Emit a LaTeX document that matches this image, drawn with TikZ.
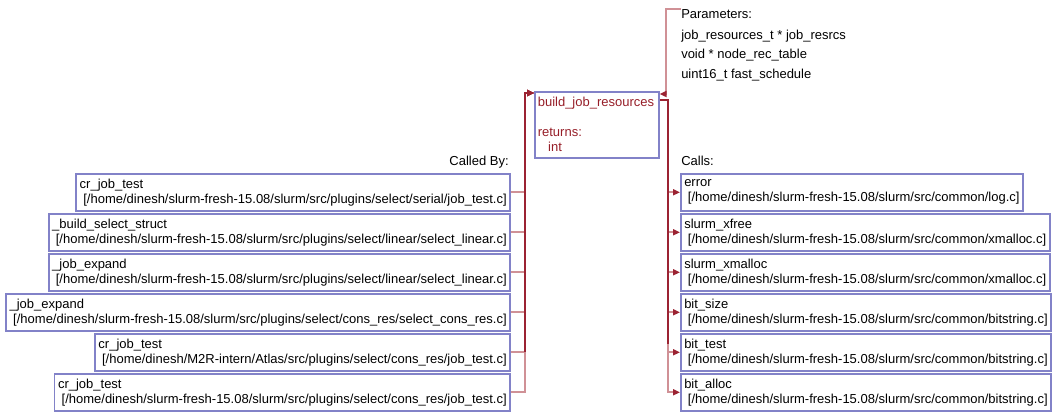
\documentclass[tikz,border=0pt]{standalone}
\usepackage{fontspec}
\setmainfont{Liberation Sans}
\usetikzlibrary{arrows.meta,calc}
\definecolor{dred}{RGB}{155,35,50}
\definecolor{pline}{RGB}{208,145,150}
\definecolor{bblue}{RGB}{130,130,200}
\definecolor{mtext}{RGB}{150,30,40}
\begin{document}
\begin{tikzpicture}[x=0.75pt,y=-0.75pt,
  every node/.style={font=\fontsize{9.75pt}{11.25pt}\selectfont},
  fbox/.style={draw=bblue,line width=1.2pt,align=left,inner xsep=2.6pt,inner ysep=0pt,minimum height=27.75pt},
  caller/.style={fbox,anchor=north east},
  callee/.style={fbox,anchor=north west},
  mainbox/.style={draw=bblue,line width=1.2pt,align=left,text=mtext,inner xsep=2.25pt,inner ysep=0pt,
     text width=88.5pt,minimum height=49.5pt,anchor=north west},
  edge/.style={draw=pline,line width=1.5pt,-{Triangle[length=5.25pt,width=4.5pt,color=dred]}},
  trunk/.style={draw=dred,line width=1.5pt},
  lbl/.style={inner sep=0pt}]
\path[use as bounding box] (0,0) rectangle (1058,416);

% main node
\node[mainbox] (main) at (534,91) {build\_job\_resources\\[11.25pt]returns:\\\hspace*{.8em}int};

% parameters
\node[lbl,anchor=north west,align=left,font=\fontsize{9.75pt}{14.5pt}\selectfont] (params) at (681,9.5)
  {Parameters:\\[1.2pt]job\_resources\_t * job\_resrcs\\void * node\_rec\_table\\uint16\_t fast\_schedule};

\node[lbl,anchor=base east] (calledby) at (509,166) {Called By:};
\node[lbl,anchor=base west] (calls) at (681,166) {Calls:};

% callers
\node[caller] (c1) at (511,173) {cr\_job\_test\\\hspace*{.28em}[/home/dinesh/slurm-fresh-15.08/slurm/src/plugins/select/serial/job\_test.c]};
\node[caller] (c2) at (511,213) {\_build\_select\_struct\\\hspace*{.28em}[/home/dinesh/slurm-fresh-15.08/slurm/src/plugins/select/linear/select\_linear.c]};
\node[caller] (c3) at (511,253) {\_job\_expand\\\hspace*{.28em}[/home/dinesh/slurm-fresh-15.08/slurm/src/plugins/select/linear/select\_linear.c]};
\node[caller] (c4) at (511,293) {\_job\_expand\\\hspace*{.28em}[/home/dinesh/slurm-fresh-15.08/slurm/src/plugins/select/cons\_res/select\_cons\_res.c]};
\node[caller] (c5) at (511,333) {cr\_job\_test\\\hspace*{.28em}[/home/dinesh/M2R-intern/Atlas/src/plugins/select/cons\_res/job\_test.c]};
\node[caller] (c6) at (511,373) {cr\_job\_test\\\hspace*{.28em}[/home/dinesh/slurm-fresh-15.08/slurm/src/plugins/select/cons\_res/job\_test.c]};

% callees
\node[callee] (k1) at (680,173) {error\\\hspace*{.28em}[/home/dinesh/slurm-fresh-15.08/slurm/src/common/log.c]};
\node[callee] (k2) at (680,213) {slurm\_xfree\\\hspace*{.28em}[/home/dinesh/slurm-fresh-15.08/slurm/src/common/xmalloc.c]};
\node[callee] (k3) at (680,253) {slurm\_xmalloc\\\hspace*{.28em}[/home/dinesh/slurm-fresh-15.08/slurm/src/common/xmalloc.c]};
\node[callee] (k4) at (680,293) {bit\_size\\\hspace*{.28em}[/home/dinesh/slurm-fresh-15.08/slurm/src/common/bitstring.c]};
\node[callee] (k5) at (680,333) {bit\_test\\\hspace*{.28em}[/home/dinesh/slurm-fresh-15.08/slurm/src/common/bitstring.c]};
\node[callee] (k6) at (680,373) {bit\_alloc\\\hspace*{.28em}[/home/dinesh/slurm-fresh-15.08/slurm/src/common/bitstring.c]};

\coordinate (min) at ($(main.north west)+(0,2)$);
\coordinate (mout) at ($(main.north east)+(0,9)$);
\coordinate (mt) at ($(mout)+(8,0)$);
\coordinate (pin) at ($(main.north east)+(0,3)$);

% caller edges
\foreach \c in {c1,c2,c3,c4,c5,c6}
  \draw[edge] (\c.east) -- ++(14,0) |- (min);
\draw[trunk,shorten >=4pt] ($(c5.east)+(14,0)$) |- (min);

% callee edges
\foreach \k in {k1,k2,k3,k4,k5,k6}
  \draw[edge] (mout) -- (mt) |- (\k.west);
\draw[trunk] (mout) -- (mt) -- ([yshift=6pt]mt |- k5.west);

% parameters edge
\draw[edge] (params.north west) -- ++(-15,0) |- (pin);
\end{tikzpicture}
\end{document}
